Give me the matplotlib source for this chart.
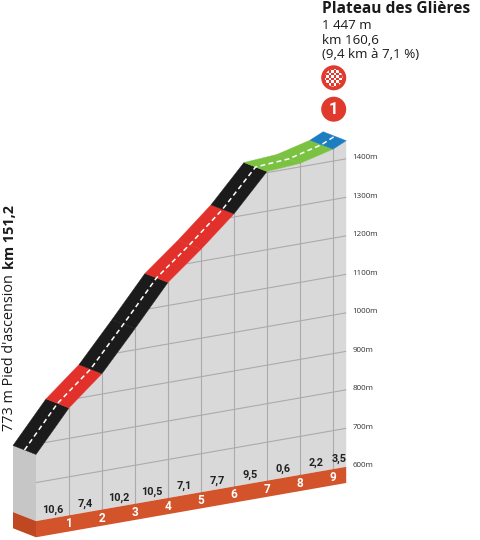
import numpy as np
import matplotlib
matplotlib.use("Agg")
import matplotlib.pyplot as plt
from matplotlib.patches import Polygon, Circle, Rectangle
from matplotlib.transforms import Affine2D, offset_copy

# --- data ---
km = [0, 1, 2, 3, 4, 5, 6, 7, 8, 9, 9.4]
elev = [773, 879, 953, 1055, 1160, 1231, 1308, 1403, 1409, 1431, 1447]
gradients = ["10,6", "7,4", "10,2", "10,5", "7,1", "7,7", "9,5", "0,6", "2,2", "3,5"]
seg_colors = ["#1b1b1b", "#e2302b", "#1b1b1b", "#1b1b1b", "#e2302b", "#e2302b",
              "#1b1b1b", "#7cc242", "#7cc242", "#1d7dc1"]
grid_levels = [600, 700, 800, 900, 1000, 1100, 1200, 1300, 1400]
km_labels = ["1", "2", "3", "4", "5", "6", "7", "8", "9"]

summit_name = "Plateau des Glières"
summit_info = ["1 447 m", "km 160,6", "(9,4 km à 7,1 %)"]
foot_text = "773 m Pied d'ascension "
foot_km = "km 151,2"

base_top = 600
base_bottom = 558

plt.rcParams['font.family'] = ['Open Sans', 'DejaVu Sans']

fig = plt.figure(figsize=(4.8, 5.4), dpi=100)
ax = fig.add_axes([0, 0, 1, 1])
ax.set_xlim(0, 480)
ax.set_ylim(540, 0)
ax.axis("off")

# oblique projection: km -> right, elevation -> up, with a slight tilt
proj = Affine2D.from_values(33.0, -5.775, 0, -0.385, 36.0, 752.1)
depth = Affine2D().translate(-23, -9)
front = proj + ax.transData
back_proj = proj + depth


def fpts(xs, ys):
    return proj.transform(np.column_stack([xs, ys]))


def bpts(xs, ys):
    return back_proj.transform(np.column_stack([xs, ys]))


# front face
face_xy = list(zip(km, elev)) + [(km[-1], base_top), (km[0], base_top)]
face = Polygon(face_xy, closed=True, transform=front, facecolor="#d9d9d9",
               edgecolor="none", zorder=1)
ax.add_patch(face)

# grid on the front face
for h in grid_levels[1:]:
    ln, = ax.plot([km[0], km[-1]], [h, h], transform=front, color="#ababab",
                  lw=0.8, zorder=2)
    ln.set_clip_path(face)
for k, h in zip(km[1:-1], elev[1:-1]):
    ax.plot([k, k], [base_top, h], transform=front, color="#ababab", lw=0.8, zorder=2)

# left side face
side = np.vstack([fpts([0, 0], [elev[0], base_top]), bpts([0, 0], [base_top, elev[0]])])
ax.add_patch(Polygon(side, closed=True, facecolor="#c6c6c6", edgecolor="none", zorder=1))

# orange base
ax.add_patch(Polygon([(km[0], base_top), (km[-1], base_top), (km[-1], base_bottom),
                      (km[0], base_bottom)], closed=True, transform=front,
                     facecolor="#d3532a", edgecolor="none", zorder=3))
side_base = np.vstack([fpts([0, 0], [base_top, base_bottom]),
                       bpts([0, 0], [base_bottom, base_top])])
ax.add_patch(Polygon(side_base, closed=True, facecolor="#bf4822", edgecolor="none", zorder=3))

# road band on top of the profile
for i, c in enumerate(seg_colors):
    xs = [km[i], km[i + 1]]
    ys = [elev[i], elev[i + 1]]
    band = np.vstack([fpts(xs, ys), bpts(xs[::-1], ys[::-1])])
    ax.add_patch(Polygon(band, closed=True, facecolor=c, edgecolor=c, lw=0.3, zorder=4))

mid = proj + Affine2D().translate(-11.5, -4.5) + ax.transData
ax.plot(km, elev, transform=mid, color="white", lw=1.1, dashes=(3.2, 2.2), zorder=5)

# gradient labels and km numbers
for i, g in enumerate(gradients):
    ax.text((km[i] + km[i + 1]) / 2, 623, g, transform=front, ha="center", va="center",
            fontsize=7.8, fontweight="bold", color="#222222", family="Roboto", zorder=6)
for k, lab in zip(km[1:-1], km_labels):
    ax.text(k, 578, lab, transform=front, ha="center", va="center", fontsize=8.5,
            fontweight="bold", color="white", family="Roboto", zorder=6)

# elevation labels on the right
lbl_tr = offset_copy(front, fig=fig, x=6, y=1, units="dots")
for h in grid_levels:
    ax.text(km[-1], h, f"{h}m", transform=lbl_tr, ha="left", va="center",
            fontsize=5.8, color="#333333")

# summit text
ax.text(322, 13, summit_name, ha="left", va="baseline", fontsize=11.2,
        fontweight="bold", color="#1a1a1a")
for j, line in enumerate(summit_info):
    ax.text(322, 29.3 + 14.2 * j, line, ha="left", va="baseline", fontsize=9.6,
            color="#1a1a1a")

# KOM icons
red = "#e03a2e"
ax.add_patch(Circle((333.7, 77.8), 12.5, facecolor=red, edgecolor="none"))
inner = Circle((333.7, 77.8), 8.8, transform=ax.transData, facecolor="none", edgecolor="none")
ax.add_patch(inner)
sq = 2.6
for r in range(-4, 4):
    for c in range(-4, 4):
        if (r + c) % 2 == 0:
            rect = Rectangle((333.7 + c * sq, 77.8 + r * sq), sq, sq, facecolor="white",
                             edgecolor="none")
            ax.add_patch(rect)
            rect.set_clip_path(inner)
ax.add_patch(Circle((333.7, 109.2), 12.5, facecolor=red, edgecolor="none"))
ax.text(333.7, 109.8, "1", ha="center", va="center", fontsize=12, fontweight="bold",
        color="white", family="Roboto")

# foot of the climb, rotated text
t1 = ax.text(10, 431, foot_text, rotation=90, ha="center", va="bottom", fontsize=10.4,
             color="#1a1a1a")
ax.annotate(foot_km, xy=(0.5, 1), xycoords=t1, xytext=(0, 1), textcoords="offset points",
            rotation=90, ha="center", va="bottom", fontsize=10.4, fontweight="bold",
            color="#1a1a1a")

fig.savefig("out.png", dpi=100)
